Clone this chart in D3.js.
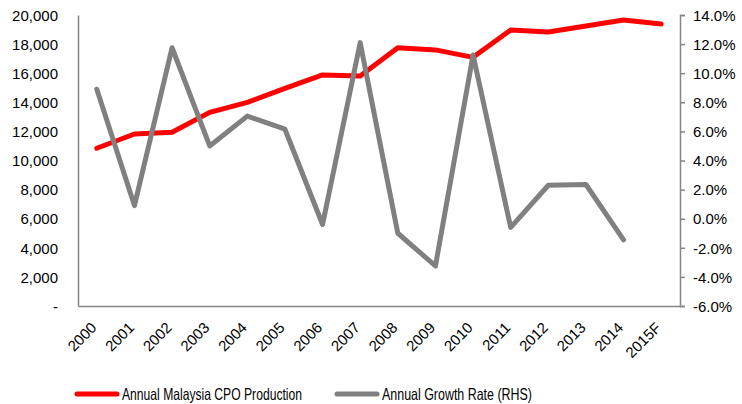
<!DOCTYPE html>
<html>
<head>
<meta charset="utf-8">
<script src="https://cdn.jsdelivr.net/npm/d3@7"></script>
<style>
  body { margin: 0; background: #fff; }
  text { font-family: "Liberation Sans", Arial, sans-serif; fill: #000; }
</style>
</head>
<body>
<div id="chart"></div>
<script>
var years = ["2000","2001","2002","2003","2004","2005","2006","2007","2008","2009","2010","2011","2012","2013","2014","2015F"];
var production = [10840, 11820, 11940, 13310, 14000, 14960, 15880, 15810, 17750, 17600, 17090, 18970, 18830, 19240, 19660, 19380];
var growth = [8.9, 0.9, 11.75, 5.0, 7.05, 6.15, -0.4, 12.1, -1.0, -3.25, 11.25, -0.6, 2.3, 2.35, -1.45, null];
var leftTicks = [0, 2000, 4000, 6000, 8000, 10000, 12000, 14000, 16000, 18000, 20000];
var rightTicks = [-6, -4, -2, 0, 2, 4, 6, 8, 10, 12, 14];
var seriesNames = ["Annual Malaysia CPO Production", "Annual Growth Rate (RHS)"];

var W = 742, H = 404;
var margin = {left: 78, right: 680, top: 15, bottom: 306};

var svg = d3.select("#chart").append("svg")
  .attr("width", W).attr("height", H);

var x = d3.scaleBand().domain(years).range([margin.left, margin.right]);
var y = d3.scaleLinear().domain([0, 20000]).range([margin.bottom, margin.top]);
var y2 = d3.scaleLinear().domain([-6, 14]).range([margin.bottom, margin.top]);

// left axis
var gl = svg.append("g")
  .attr("transform", "translate(" + margin.left + ",0)")
  .call(d3.axisLeft(y).tickValues(leftTicks).tickSize(0).tickPadding(20)
    .tickFormat(function(d) { return d === 0 ? "-" : d3.format(",")(d); }));
gl.select(".domain").attr("stroke", "#868686").attr("stroke-width", 1.5);
gl.selectAll("text").style("font-size", "15px").attr("dy", "0.35em");

// right axis
var gr = svg.append("g")
  .attr("transform", "translate(" + margin.right + ",0)")
  .call(d3.axisRight(y2).tickValues(rightTicks).tickSize(5).tickPadding(8)
    .tickFormat(function(d) { return d.toFixed(1) + "%"; }));
gr.select(".domain").attr("stroke", "#868686").attr("stroke-width", 1.5);
gr.selectAll("line").attr("stroke", "#868686").attr("stroke-width", 1.5);
gr.selectAll("text").style("font-size", "15px").attr("dy", "0.35em");

// bottom axis
var gb = svg.append("g")
  .attr("transform", "translate(0," + margin.bottom + ")")
  .call(d3.axisBottom(x).tickSize(0).tickPadding(0));
gb.select(".domain").attr("stroke", "#868686").attr("stroke-width", 1.5);
gb.selectAll("text")
  .style("font-size", "15px")
  .attr("text-anchor", "end")
  .attr("transform", "translate(-3,19) rotate(-45)")
  .attr("dy", "0.35em")
  .attr("y", 0);

// lines
var cx = function(d, i) { return x(years[i]) + x.bandwidth() / 2; };

svg.append("path")
  .datum(production)
  .attr("fill", "none")
  .attr("stroke", "#ff0000")
  .attr("stroke-width", 5)
  .attr("stroke-linejoin", "round")
  .attr("stroke-linecap", "round")
  .attr("d", d3.line().x(cx).y(function(d) { return y(d); }));

svg.append("path")
  .datum(growth)
  .attr("fill", "none")
  .attr("stroke", "#808080")
  .attr("stroke-width", 5)
  .attr("stroke-linejoin", "round")
  .attr("stroke-linecap", "round")
  .attr("d", d3.line().defined(function(d) { return d !== null; }).x(cx).y(function(d) { return y2(d); }));

// legend
var legendColors = ["#ff0000", "#808080"];
var legendX = [77, 337];
var legendLen = [180, 150];
seriesNames.forEach(function(name, i) {
  svg.append("line")
    .attr("x1", legendX[i]).attr("x2", legendX[i] + 40)
    .attr("y1", 394).attr("y2", 394)
    .attr("stroke", legendColors[i]).attr("stroke-width", 5)
    .attr("stroke-linecap", "round");
  svg.append("text")
    .attr("x", legendX[i] + 45).attr("y", 394)
    .attr("dy", "0.35em")
    .attr("textLength", legendLen[i])
    .attr("lengthAdjust", "spacingAndGlyphs")
    .style("font-size", "16.5px")
    .text(name);
});
</script>
</body>
</html>
